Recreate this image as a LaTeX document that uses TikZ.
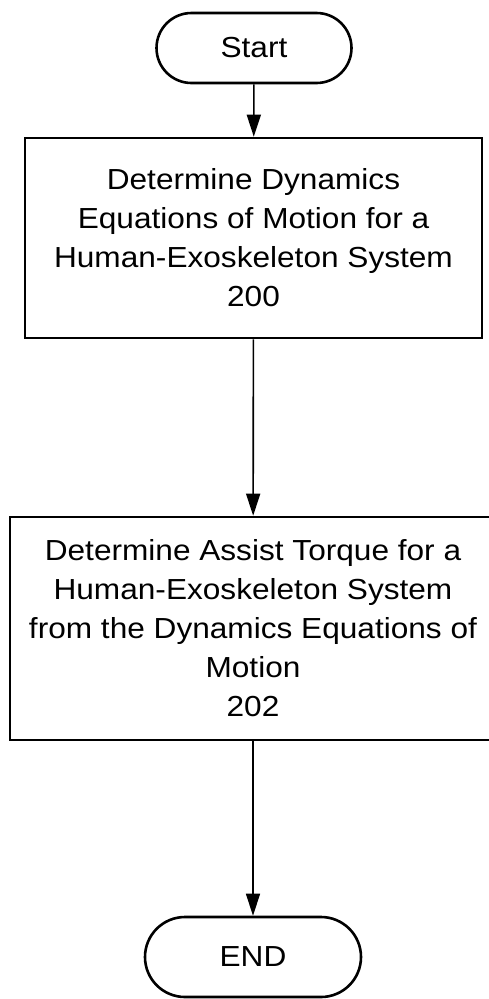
\documentclass[tikz,border=0pt]{standalone}
\usepackage{fontspec}
\setmainfont{Liberation Sans}[FakeStretch=1.09]
\usetikzlibrary{arrows.meta}
\begin{document}
\begin{tikzpicture}[x=1pt,y=-1pt,
  every node/.style={font=\fontsize{29}{39}\selectfont, align=center, inner sep=0pt},
  terminal/.style={draw, line width=2.6pt, rounded corners=#1},
  process/.style={draw, line width=2.6pt},
  flow/.style={line width=1.6pt, -{Triangle[length=22pt,width=14pt]}}]
  \useasboundingbox (0,0) rectangle (489,999);

  \node[terminal=35pt, minimum width=195pt, minimum height=70pt] (start) at (254,48) {Start};
  \node[process, minimum width=457pt, minimum height=200pt] (dyn) at (253.5,238)
    {Determine Dynamics\\Equations of Motion for a\\Human-Exoskeleton System\\200};
  \node[process, minimum width=486pt, minimum height=223pt] (torque) at (253,628.5)
    {Determine Assist Torque for a\\Human-Exoskeleton System\\from the Dynamics Equations of\\Motion\\202};
  \node[terminal=40pt, minimum width=216pt, minimum height=80pt] (end) at (253,957) {END};

  \draw[flow] (start) -- (dyn);
  \draw[flow] (dyn) -- (torque);
  \draw[flow] (torque) -- (end);
\end{tikzpicture}
\end{document}
